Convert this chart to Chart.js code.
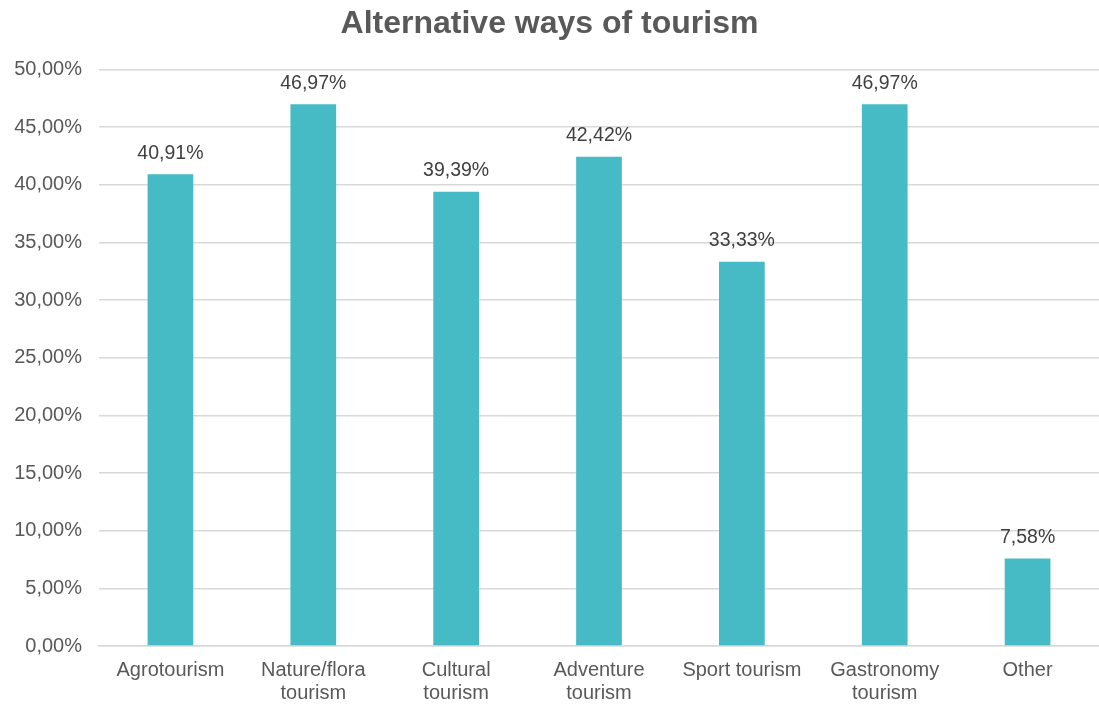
<!DOCTYPE html>
<html>
<head>
<meta charset="utf-8">
<script src="https://cdn.jsdelivr.net/npm/chart.js@4/dist/chart.umd.min.js"></script>
<style>
    html, body { margin: 0; padding: 0; background: #fff; }
    #wrap { position: relative; width: 1099px; height: 704px; }
</style>
</head>
<body>
<div id="wrap"><canvas id="chart-tourism"></canvas></div>
<script>
const categories = [
    "Agrotourism",
    ["Nature/flora", "tourism"],
    ["Cultural", "tourism"],
    ["Adventure", "tourism"],
    "Sport tourism",
    ["Gastronomy", "tourism"],
    "Other",
];
const shares = [40.91, 46.97, 39.39, 42.42, 33.33, 46.97, 7.58];
const yTicks = [0, 5, 10, 15, 20, 25, 30, 35, 40, 45, 50];

const FONT = "'Liberation Sans', Arial, sans-serif";
const COLORS = {
    bar: "#46BBC5",
    text: "#595959",
    label: "#404040",
    grid: "#D9D9D9",
};

const fmt = (v) => v.toFixed(2).replace(".", ",") + "%";

// draws the value above each bar
const valueLabels = {
    id: "valueLabels",
    afterDatasetsDraw(chart) {
        const { ctx } = chart;
        const meta = chart.getDatasetMeta(0);
        ctx.save();
        ctx.font = `19.5px ${FONT}`;
        ctx.fillStyle = COLORS.label;
        ctx.textAlign = "center";
        ctx.textBaseline = "bottom";
        meta.data.forEach((bar, i) => {
            ctx.fillText(fmt(shares[i]), bar.x, bar.y - 11);
        });
        ctx.restore();
    },
};

const tourismChartElem = document.getElementById("chart-tourism");
const tourismChart = new Chart(tourismChartElem, {
    type: "bar",
    data: {
        labels: categories,
        datasets: [
            {
                data: shares,
                backgroundColor: COLORS.bar,
                barPercentage: 0.64,
                categoryPercentage: 0.5,
            },
        ],
    },
    options: {
        responsive: true,
        maintainAspectRatio: false,
        animation: false,
        layout: { padding: { left: 0, right: 0, top: 0, bottom: 0 } },
        plugins: {
            legend: { display: false },
            tooltip: { enabled: false },
            title: {
                display: true,
                text: "Alternative ways of tourism",
                color: COLORS.text,
                font: { family: FONT, size: 32, weight: "bold" },
                padding: { top: 5, bottom: 26 },
            },
        },
        scales: {
            x: {
                grid: { display: false, drawTicks: false },
                border: { color: COLORS.grid, width: 1.5 },
                afterFit(axis) {
                    axis.height = 58;
                },
                ticks: {
                    color: COLORS.text,
                    font: { family: FONT, size: 20, lineHeight: 1.15 },
                    padding: 13,
                    maxRotation: 0,
                    autoSkip: false,
                },
            },
            y: {
                min: 0,
                max: 50,
                afterBuildTicks(axis) {
                    axis.ticks = yTicks.map((v) => ({ value: v }));
                },
                afterFit(axis) {
                    axis.width = 99;
                },
                grid: { color: COLORS.grid, lineWidth: 1.5, drawTicks: false },
                border: { display: false },
                ticks: {
                    color: COLORS.text,
                    font: { family: FONT, size: 20 },
                    padding: 17,
                    callback: (v) => fmt(v),
                },
            },
        },
    },
    plugins: [valueLabels],
});
</script>
</body>
</html>
